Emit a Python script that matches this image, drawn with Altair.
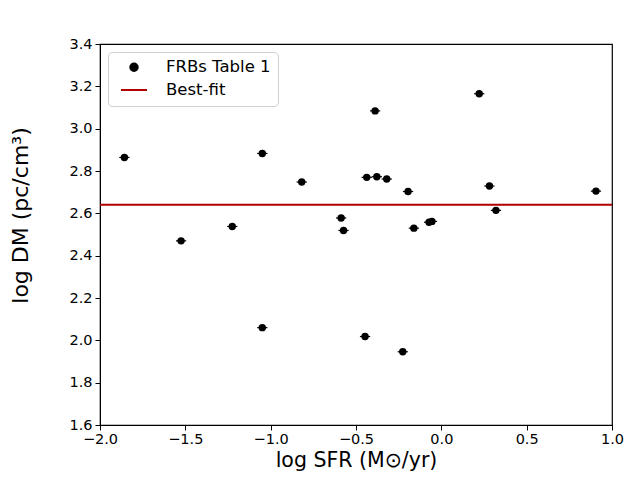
import altair as alt
import pandas as pd

# data
sfr = [-1.857, -1.525, -1.225, -1.049, -1.049, -0.818, -0.587, -0.573, -0.447, -0.437,
       -0.388, -0.378, -0.320, -0.226, -0.195, -0.161, -0.072, -0.055, 0.222, 0.282,
       0.320, 0.906]
dm = [2.864, 2.470, 2.538, 2.883, 2.060, 2.748, 2.578, 2.519, 2.018, 2.770,
      3.084, 2.773, 2.762, 1.946, 2.703, 2.530, 2.558, 2.562, 3.165, 2.729,
      2.614, 2.705]
sfr_err = [0.03, 0.03, 0.03, 0.03, 0.03, 0.03, 0.03, 0.03, 0.03, 0.03,
           0.03, 0.03, 0.03, 0.03, 0.03, 0.03, 0.03, 0.03, 0.03, 0.03,
           0.03, 0.03]
dm_err = [0.01, 0.01, 0.01, 0.01, 0.01, 0.01, 0.01, 0.01, 0.01, 0.01,
          0.01, 0.01, 0.01, 0.01, 0.01, 0.01, 0.01, 0.01, 0.01, 0.01,
          0.01, 0.01]
best_fit = 2.64
series_names = ["FRBs Table 1", "Best-fit"]
x_ticks = [-2.0, -1.5, -1.0, -0.5, 0.0, 0.5, 1.0]
y_ticks = [1.6, 1.8, 2.0, 2.2, 2.4, 2.6, 2.8, 3.0, 3.2, 3.4]

pts = pd.DataFrame({"sfr": sfr, "dm": dm, "sfr_err": sfr_err, "dm_err": dm_err,
                    "series": series_names[0]})
pts["x_lo"] = pts["sfr"] - pts["sfr_err"]
pts["x_hi"] = pts["sfr"] + pts["sfr_err"]
pts["y_lo"] = pts["dm"] - pts["dm_err"]
pts["y_hi"] = pts["dm"] + pts["dm_err"]
fit = pd.DataFrame({"dm": [best_fit], "series": [series_names[1]]})

FONT = "DejaVu Sans"
xscale = alt.Scale(domain=[-2.0, 1.0], nice=False, zero=False)
yscale = alt.Scale(domain=[1.6, 3.4], nice=False, zero=False)

leg = alt.Legend(title=None, orient="top-left", offset=8)
color = alt.Color("series:N",
                  scale=alt.Scale(domain=series_names, range=["black", "#b00000"]),
                  legend=leg)
shape = alt.Shape("series:N",
                  scale=alt.Scale(domain=series_names, range=["circle", "stroke"]),
                  legend=leg)
size = alt.Size("series:N",
                scale=alt.Scale(domain=series_names, range=[55, 676]),
                legend=leg)

xerr = alt.Chart(pts).mark_rule(color="black", strokeWidth=1.2).encode(
    x=alt.X("x_lo:Q", scale=xscale), x2="x_hi:Q", y=alt.Y("dm:Q", scale=yscale))
yerr = alt.Chart(pts).mark_rule(color="black", strokeWidth=1.2).encode(
    x=alt.X("sfr:Q", scale=xscale), y=alt.Y("y_lo:Q", scale=yscale), y2="y_hi:Q")

points = alt.Chart(pts).mark_point(filled=True, opacity=1).encode(
    x=alt.X("sfr:Q", scale=xscale,
            axis=alt.Axis(title="log SFR (M⊙/yr)", values=x_ticks, format=".1f",
                          labelOverlap=False, labelFlush=False, labelPadding=2,
                          titleFontSize=20.5, titleBaseline="alphabetic", titleY=41)),
    y=alt.Y("dm:Q", scale=yscale,
            axis=alt.Axis(title="log DM (pc/cm³)", values=y_ticks, format=".1f",
                          labelOverlap=False, labelFlush=False, titlePadding=36,
                          titleFontSize=22, titleY=171)),
    color=color, shape=shape, size=size)

line = alt.Chart(fit).mark_rule(strokeWidth=2).encode(
    y=alt.Y("dm:Q", scale=yscale), color=color)

chart = alt.layer(line, xerr, yerr, points).properties(
    width=512, height=381,
    autosize=alt.AutoSizeParams(type="none"),
    padding={"left": 92, "top": 36, "right": 22, "bottom": 46},
    background="white",
).configure_view(stroke="black", strokeWidth=1.2).configure_axis(
    grid=False, domainColor="black", tickColor="black", tickSize=5,
    labelFont=FONT, titleFont=FONT, labelFontSize=14.5,
    labelColor="black", titleColor="black", titleFontWeight="normal",
    labelPadding=3,
).configure_legend(
    labelFont=FONT, labelFontSize=16.5, labelColor="black",
    strokeColor="#d0d0d0", fillColor="white", cornerRadius=4, padding=7,
    rowPadding=-4, symbolStrokeWidth=2, labelOffset=18, symbolOffset=5,
)

chart.save("out.html", embed_options={"renderer": "svg", "actions": False})
